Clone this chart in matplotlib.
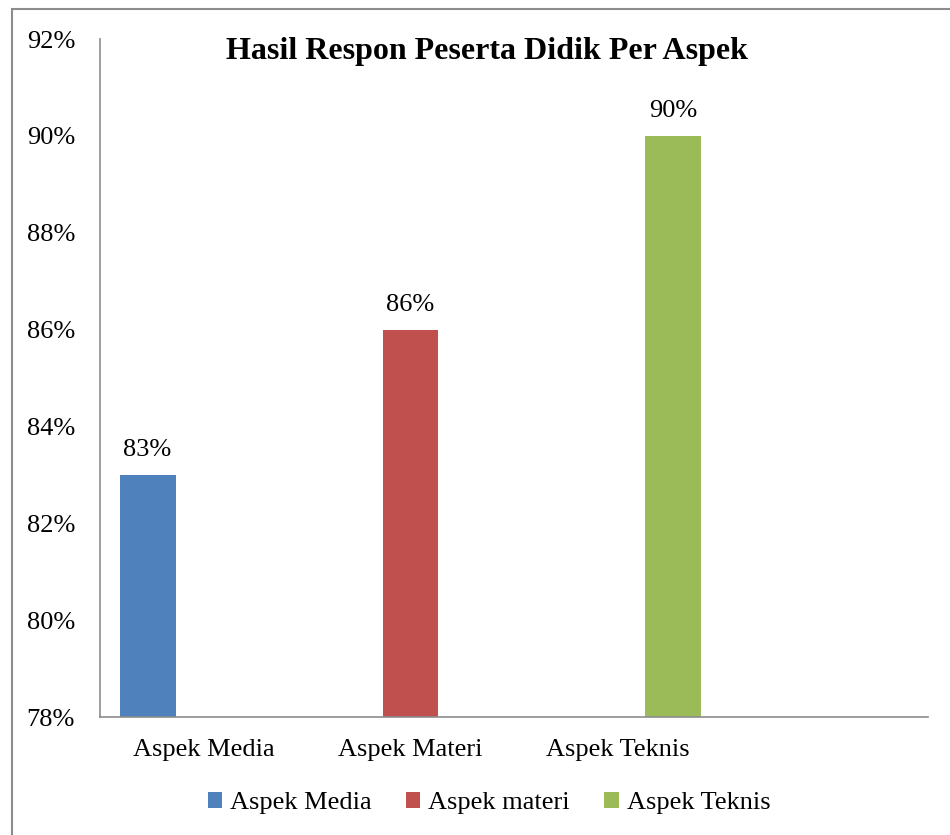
import matplotlib.pyplot as plt
import matplotlib.patches as patches
import numpy as np

# hasil respon peserta didik
categories = ['Aspek Media', 'Aspek Materi', 'Aspek Teknis', '']
series_names = ['Aspek Media', 'Aspek materi', 'Aspek Teknis']
series_values = [83, 86, 90]
colors = ['#4F81BD', '#C0504D', '#9BBB59']
y_ticks = [78, 80, 82, 84, 86, 88, 90, 92]

plt.rcParams['font.family'] = ['Liberation Serif', 'DejaVu Serif']

fig = plt.figure(figsize=(9.5, 8.35), dpi=100)
ax = fig.add_axes([100/950, 1 - 717/835, 828/950, 678/835])

x = np.arange(len(categories))
bar_w = 0.27
for i in range(len(series_names)):
    # each series only has a value in its own category
    offset = (i - 1) * bar_w
    ax.bar(x[i] + offset, series_values[i], width=bar_w, color=colors[i],
           label=series_names[i], zorder=2)
    ax.text(x[i] + offset, series_values[i] + 0.28, str(series_values[i]) + '%',
            ha='center', va='bottom', fontsize=19)

ax.set_xlim(-0.5, 3.5)
ax.set_ylim(78, 92)
ax.set_yticks(y_ticks)
ax.set_yticklabels([str(t) + '%' for t in y_ticks], fontsize=19)
ax.set_xticks(x)
ax.set_xticklabels(categories, fontsize=19)
ax.tick_params(axis='y', length=0, pad=18)
ax.tick_params(axis='x', length=0, pad=16)

for s in ['top', 'right']:
    ax.spines[s].set_visible(False)
for s in ['left', 'bottom']:
    ax.spines[s].set_color('#8c8c8c')
    ax.spines[s].set_linewidth(1.2)

fig.text(487/950, 1 - 51/835, 'Hasil Respon Peserta Didik Per Aspek',
         ha='center', va='center', fontsize=23, fontweight='bold')

fig.legend(loc='center', bbox_to_anchor=(489/950, 1 - 803/835), ncol=3,
           frameon=False, fontsize=19, handlelength=0.55, handleheight=0.55,
           handletextpad=0.3, columnspacing=1.3)

# chart area border
border = patches.Rectangle((11.5/950, -0.1), 1.0, 1 - 9.5/835 + 0.1,
                           transform=fig.transFigure, fill=False,
                           edgecolor='#8c8c8c', linewidth=1.5)
fig.patches.append(border)

fig.savefig('out.png', dpi=100)
